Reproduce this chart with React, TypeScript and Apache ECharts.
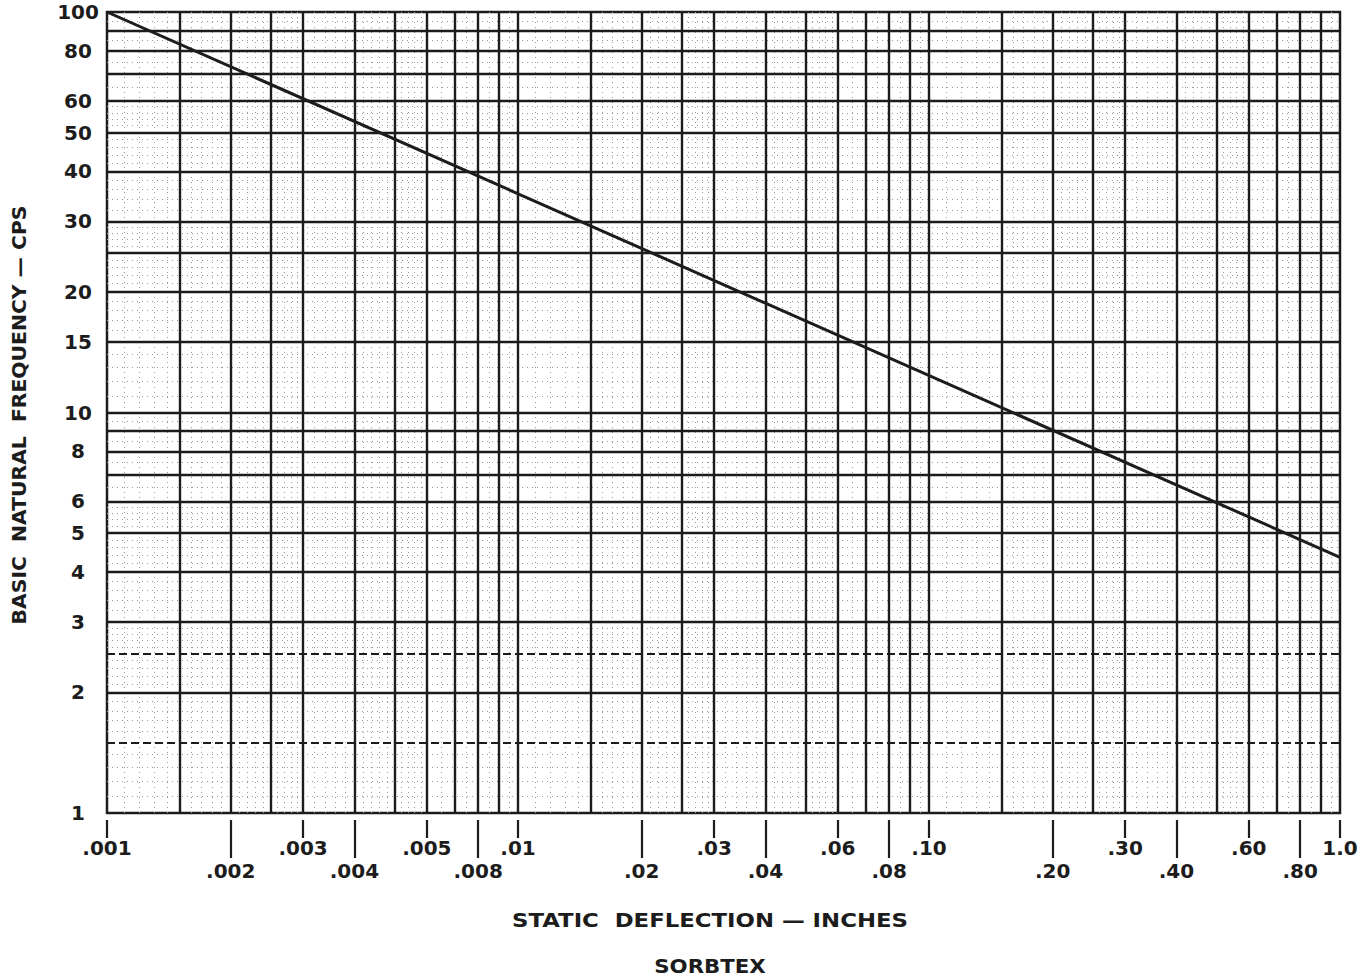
import React, { useEffect, useRef } from "react";
import * as echarts from "echarts";

// ---- tick labels ----
const xTopTickValues = [0.001, 0.003, 0.006, 0.01, 0.03, 0.06, 0.1, 0.3, 0.6, 1.0];
const xTopTickLabels = [".001", ".003", ".005", ".01", ".03", ".06", ".10", ".30", ".60", "1.0"];
const xBottomTickValues = [0.002, 0.004, 0.008, 0.02, 0.04, 0.08, 0.2, 0.4, 0.8];
const xBottomTickLabels = [".002", ".004", ".008", ".02", ".04", ".08", ".20", ".40", ".80"];
const yTickValues = [1, 2, 3, 4, 5, 6, 8, 10, 15, 20, 30, 40, 50, 60, 80, 100];
const yTickLabels = ["1", "2", "3", "4", "5", "6", "8", "10", "15", "20", "30", "40", "50", "60", "80", "100"];

// ---- log paper ruling (per decade) ----
const gridMantissas = [1, 1.5, 2, 2.5, 3, 4, 5, 6, 7, 8, 9];
const fineMantissas = [
  1.1, 1.2, 1.3, 1.4, 1.6, 1.7, 1.8, 1.9, 2.1, 2.2, 2.3, 2.4, 2.6, 2.7, 2.8, 2.9,
  3.2, 3.4, 3.6, 3.8, 4.2, 4.4, 4.6, 4.8, 5.2, 5.4, 5.6, 5.8, 6.5, 7.5, 8.5, 9.5,
];
const xDecades = [0.001, 0.01, 0.1];
const yDecades = [1, 10];
const dashedFrequencies = [1.5, 2.5];

// ---- curve ----
const curveDeflection = [0.001, 1.0];
const curveFrequency = [100, 4.35];

const FONT = '"DejaVu Sans", "Liberation Sans", sans-serif';
const INK = "#1c1c1c";

const labelFor = (vals: number[], labels: string[]) => (v: number) => {
  let best = 0;
  let bd = Infinity;
  vals.forEach((t, i) => {
    const d = Math.abs(Math.log10(t) - Math.log10(v));
    if (d < bd) {
      bd = d;
      best = i;
    }
  });
  return labels[best];
};

const expand = (decades: number[], mantissas: number[]) => {
  const out: number[] = [];
  decades.forEach((d) => mantissas.forEach((m) => out.push(+(d * m).toPrecision(6))));
  return out;
};

const xMajor = expand(xDecades, gridMantissas).filter((v) => v > 0.001);
const yMajorAll = expand(yDecades, gridMantissas).filter((v) => v > 1);
const yMajorSolid = yMajorAll.filter((v) => !dashedFrequencies.includes(v));
const xFine = expand(xDecades, fineMantissas);
const yFine = expand(yDecades, fineMantissas);

const pairs = curveDeflection.map((d, i) => [d, curveFrequency[i]]);

function buildOption(): any {
  const tickLabelStyle = {
    color: INK,
    fontFamily: FONT,
    fontWeight: "bold",
    fontSize: 20,
  };
  const titleStyle = (text: string) => ({
    text,
    fill: INK,
    font: `bold 19px ${FONT}`,
    textAlign: "center",
    textVerticalAlign: "middle",
    align: "center",
    verticalAlign: "middle",
  });
  return {
    animation: false,
    backgroundColor: "#ffffff",
    grid: {
      left: 107,
      right: 26,
      top: 12,
      bottom: 164,
      show: true,
      borderColor: INK,
      borderWidth: 2.5,
      backgroundColor: "transparent",
    },
    xAxis: [
      {
        type: "log",
        logBase: 10,
        min: 0.001,
        max: 1,
        position: "bottom",
        offset: 7,
        axisLine: { show: false },
        splitLine: { show: false },
        minorTick: { show: false },
        minorSplitLine: { show: false },
        axisTick: {
          show: true,
          customValues: xTopTickValues,
          length: 18,
          lineStyle: { color: INK, width: 2.2 },
        },
        axisLabel: {
          customValues: xTopTickValues,
          formatter: labelFor(xTopTickValues, xTopTickLabels),
          margin: 18,
          ...tickLabelStyle,
        },
      },
      {
        type: "log",
        logBase: 10,
        min: 0.001,
        max: 1,
        position: "bottom",
        offset: 7,
        axisLine: { show: false },
        splitLine: { show: false },
        minorTick: { show: false },
        minorSplitLine: { show: false },
        axisTick: {
          show: true,
          customValues: xBottomTickValues,
          length: 38,
          lineStyle: { color: INK, width: 2.2 },
        },
        axisLabel: {
          customValues: xBottomTickValues,
          formatter: labelFor(xBottomTickValues, xBottomTickLabels),
          margin: 41,
          ...tickLabelStyle,
        },
      },
    ],
    yAxis: {
      type: "log",
      logBase: 10,
      min: 1,
      max: 100,
      axisLine: { show: false },
      axisTick: { show: false },
      splitLine: { show: false },
      minorTick: { show: false },
      axisLabel: {
        customValues: yTickValues,
        formatter: labelFor(yTickValues, yTickLabels),
        margin: 29,
        align: "center",
        verticalAlign: "middle",
        padding: [10, 0, 0, 0],
        ...tickLabelStyle,
      },
    },
    graphic: [
      {
        type: "text",
        x: 20,
        y: 415,
        rotation: Math.PI / 2,
        scaleX: 1.07,
        style: titleStyle("BASIC  NATURAL  FREQUENCY — CPS"),
      },
      {
        type: "text",
        x: 710,
        y: 921,
        scaleX: 1.2,
        style: titleStyle("STATIC  DEFLECTION — INCHES"),
      },
      {
        type: "text",
        x: 710,
        y: 966,
        scaleX: 1.12,
        style: titleStyle("SORBTEX"),
      },
    ],
    series: [
      {
        name: "fine ruling",
        type: "line",
        data: [],
        silent: true,
        z: 1,
        markLine: {
          silent: true,
          precision: 8,
          symbol: ["none", "none"],
          label: { show: false },
          z: 1,
          lineStyle: { color: "#9a9a9a", width: 1, type: [1, 4] },
          data: [
            ...xFine.map((v) => ({ xAxis: v })),
            ...yFine.map((v) => ({ yAxis: v })),
          ],
        },
      },
      {
        name: "ruling",
        type: "line",
        data: [],
        silent: true,
        z: 2,
        markLine: {
          silent: true,
          precision: 8,
          symbol: ["none", "none"],
          label: { show: false },
          z: 2,
          lineStyle: { color: INK, width: 2.4, type: "solid" },
          data: [
            ...xMajor.map((v) => ({ xAxis: v })),
            ...yMajorSolid.map((v) => ({ yAxis: v })),
            ...dashedFrequencies.map((v) => ({
              yAxis: v,
              lineStyle: { type: [8, 4], width: 1.8, color: INK },
            })),
          ],
        },
      },
      {
        name: "Natural frequency",
        type: "line",
        data: pairs,
        symbol: "none",
        z: 10,
        lineStyle: { color: INK, width: 3 },
      },
    ],
  };
}

export default function App() {
  const ref = useRef<HTMLDivElement>(null);
  useEffect(() => {
    if (!ref.current) return;
    const chart = echarts.init(ref.current, null, { renderer: "svg" });
    chart.setOption(buildOption());
    return () => chart.dispose();
  }, []);
  return (
    <div
      ref={ref}
      style={{
        position: "absolute",
        left: 0,
        top: 0,
        width: 1366,
        height: 977,
        background: "#fff",
      }}
    />
  );
}
